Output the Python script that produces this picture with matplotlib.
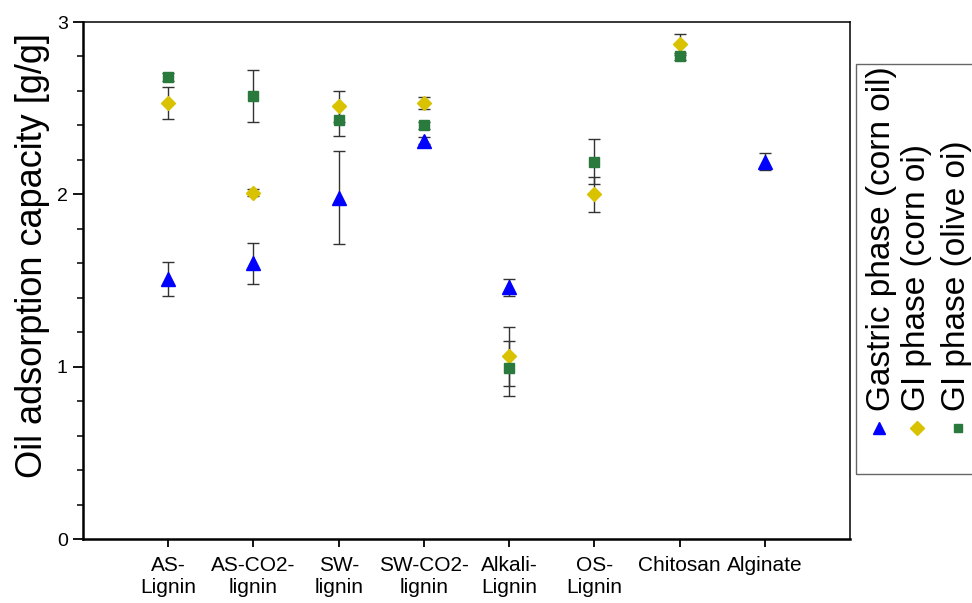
import numpy as np
import matplotlib
matplotlib.use("Agg")
import matplotlib.pyplot as plt
from matplotlib.patches import Rectangle
from matplotlib.lines import Line2D

# sample names (x categories)
samples = ["AS-\nLignin", "AS-CO2-\nlignin", "SW-\nlignin", "SW-CO2-\nlignin",
           "Alkali-\nLignin", "OS-\nLignin", "Chitosan", "Alginate"]

# oil adsorption capacity [g/g], nan = not measured
gastric_corn = [1.51, 1.60, 1.98, 2.31, 1.46, np.nan, np.nan, 2.19]
gastric_corn_err = [0.10, 0.12, 0.27, 0.02, 0.05, np.nan, np.nan, 0.05]
gi_corn = [2.53, 2.01, 2.51, 2.53, 1.06, 2.00, 2.87, np.nan]
gi_corn_err = [0.095, 0.02, 0.09, 0.037, 0.17, 0.10, 0.06, np.nan]
gi_olive = [2.68, 2.57, 2.43, 2.40, 0.99, 2.19, 2.80, np.nan]
gi_olive_err = [0.023, 0.15, 0.09, 0.02, 0.16, 0.13, 0.02, np.nan]

labels = ["Gastric phase (corn oil)", "GI phase (corn oi)", "GI phase (olive oi)"]
colors = ["#0000ff", "#d9c300", "#2a7a3e"]

plt.rcParams["font.family"] = ["Liberation Sans", "DejaVu Sans"]

fig = plt.figure(figsize=(9.72, 6.03), dpi=100)
ax = fig.add_axes([0.0854, 0.1061, 0.7891, 0.8574])

x = np.arange(len(samples))
series = [(gastric_corn, gastric_corn_err, "^", 9.5),
          (gi_corn, gi_corn_err, "D", 7.5),
          (gi_olive, gi_olive_err, "s", 6.5)]
for (vals, errs, mk, ms), col in zip(series, colors):
    ax.errorbar(x, vals, yerr=errs, fmt=mk, ms=ms, color=col, mec=col,
                ecolor="#333333", elinewidth=1, capsize=4, capthick=1, zorder=3)

ax.set_xlim(-1.0, 8.0)
ax.set_ylim(0, 3)
ax.set_xticks(x)
ax.set_xticklabels(samples, fontsize=15, linespacing=1.15)
ax.set_yticks([0, 1, 2, 3])
ax.set_yticks(np.arange(0, 3.01, 0.2), minor=True)
ax.tick_params(axis="y", which="major", direction="out", length=7, width=1.3, labelsize=14, pad=4)
ax.tick_params(axis="y", which="minor", direction="out", length=4, width=1.1)
ax.tick_params(axis="x", which="major", direction="out", length=6, width=1.3, pad=6.5)
ax.set_ylabel("Oil adsorption capacity [g/g]", fontsize=26)
ax.yaxis.set_label_coords(-0.043, 0.549)

for side in ["left", "bottom"]:
    ax.spines[side].set_linewidth(1.8)
for side in ["top", "right"]:
    ax.spines[side].set_linewidth(1.1)

# legend box, rotated text, drawn outside on the right
fig.add_artist(Rectangle((0.8807, 0.2139), 0.2, 0.68, transform=fig.transFigure,
                         fill=False, edgecolor="#666666", lw=1.0))
text_x = [0.9064, 0.9424, 0.9840]
key_x = [0.9043, 0.9434, 0.9856]
markers = ["^", "D", "s"]
msizes = [8, 7, 6]
for lab, tx, kx, col, mk, ms in zip(labels, text_x, key_x, colors, markers, msizes):
    fig.text(tx, 0.318, lab, rotation=90, ha="center", va="bottom", fontsize=24)
    fig.add_artist(Line2D([kx], [0.290], marker=mk, ms=ms, color=col, ls="none",
                          transform=fig.transFigure))

fig.savefig("out.png", dpi=100)
